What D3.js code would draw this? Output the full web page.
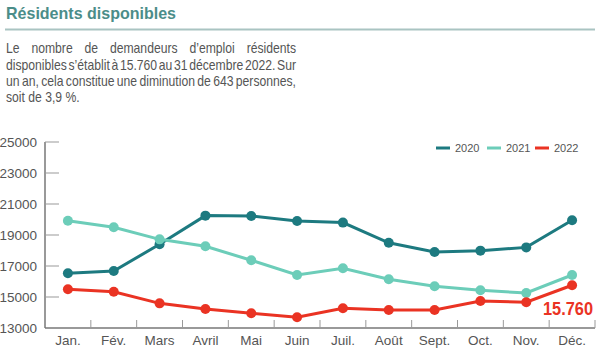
<!DOCTYPE html>
<html>
<head>
<meta charset="utf-8">
<script src="https://cdn.jsdelivr.net/npm/d3@7"></script>
<style>
  body { margin: 0; background: #fff; }
  svg { display: block; }
  text { font-family: "Liberation Sans", Arial, sans-serif; }
</style>
</head>
<body>
<div id="chart"></div>
<script>
// Months (x categories)
var months = ["Jan.", "Fév.", "Mars", "Avril", "Mai", "Juin", "Juil.", "Août", "Sept.", "Oct.", "Nov.", "Déc."];
// Series values
var years = ["2020", "2021", "2022"];
var values2020 = [16530, 16680, 18400, 20250, 20230, 19900, 19800, 18500, 17900, 17990, 18200, 19950];
var values2021 = [19920, 19500, 18720, 18270, 17370, 16420, 16850, 16140, 15690, 15430, 15260, 16420];
var values2022 = [15500, 15340, 14590, 14230, 13950, 13690, 14270, 14160, 14160, 14740, 14660, 15760];
var yTicks = [13000, 15000, 17000, 19000, 21000, 23000, 25000];
var colors = ["#1d7a80", "#6ccdb9", "#ea3323"];

var series = [values2020, values2021, values2022];

var width = 600, height = 354;
var margin = { top: 142, right: 5, bottom: 26, left: 45 };

var svg = d3.select("#chart").append("svg")
    .attr("width", width)
    .attr("height", height);

// Title
svg.append("text")
    .attr("x", 6)
    .attr("y", 19)
    .attr("textLength", 170)
    .attr("lengthAdjust", "spacingAndGlyphs")
    .style("font-size", "17px")
    .style("font-weight", "700")
    .attr("fill", "#4b8d89")
    .text("Résidents disponibles");

// Separator line
svg.append("line")
    .attr("x1", 5).attr("x2", 595)
    .attr("y1", 29.5).attr("y2", 29.5)
    .attr("stroke", "#a9c4c2")
    .attr("stroke-width", 2);

// Paragraph, narrow look via horizontal scale, justified with word-spacing
var paragraph = [
    "Le nombre de demandeurs d’emploi résidents",
    "disponibles s’établit à 15.760 au 31 décembre 2022. Sur",
    "un an, cela constitue une diminution de 643 personnes,",
    "soit de 3,9 %."
];
var narrow = 0.84;
var paraWidth = 290 / narrow;
var para = svg.append("g")
    .attr("transform", "translate(6,0) scale(" + narrow + ",1)");
paragraph.forEach(function(line, i) {
    var t = para.append("text")
        .attr("x", 0)
        .attr("y", 53.5 + i * 16.3)
        .style("font-size", "14.5px")
        .attr("fill", "#555")
        .text(line);
    if (i < paragraph.length - 1) {
        var w = t.node().getComputedTextLength();
        var gaps = line.split(" ").length - 1;
        t.style("word-spacing", ((paraWidth - w) / gaps) + "px");
    }
});

// Scales
var x = d3.scaleBand()
    .domain(months)
    .range([margin.left, width - margin.right]);

var y = d3.scaleLinear()
    .domain([13000, 25000])
    .range([height - margin.bottom, margin.top]);

// Y axis
var yAxis = svg.append("g")
    .attr("transform", "translate(" + margin.left + ",0)");
yAxis.append("line")
    .attr("x1", 0).attr("x2", 0)
    .attr("y1", y(25000)).attr("y2", y(13000))
    .attr("stroke", "#777").attr("stroke-width", 1.5);
yAxis.selectAll(".tick")
    .data(yTicks.filter(function(d) { return d > 13000; }))
    .enter().append("line")
    .attr("x1", 0).attr("x2", 14)
    .attr("y1", function(d) { return y(d); })
    .attr("y2", function(d) { return y(d); })
    .attr("stroke", "#999").attr("stroke-width", 1);
yAxis.selectAll(".label")
    .data(yTicks)
    .enter().append("text")
    .attr("x", -8)
    .attr("y", function(d) { return y(d); })
    .attr("dy", "0.35em")
    .attr("text-anchor", "end")
    .style("font-size", "13.5px")
    .attr("fill", "#555")
    .text(function(d) { return d; });

// X axis
var xAxis = svg.append("g");
xAxis.append("line")
    .attr("x1", margin.left).attr("x2", width - margin.right)
    .attr("y1", y(13000)).attr("y2", y(13000))
    .attr("stroke", "#777").attr("stroke-width", 1.5);
xAxis.selectAll(".tick")
    .data(months.slice(1))
    .enter().append("line")
    .attr("x1", function(d) { return x(d); })
    .attr("x2", function(d) { return x(d); })
    .attr("y1", y(13000)).attr("y2", y(13000) - 8)
    .attr("stroke", "#999").attr("stroke-width", 1);
xAxis.append("line")
    .attr("x1", width - margin.right).attr("x2", width - margin.right)
    .attr("y1", y(13000)).attr("y2", y(13000) - 8)
    .attr("stroke", "#999").attr("stroke-width", 1);
xAxis.selectAll(".label")
    .data(months)
    .enter().append("text")
    .attr("x", function(d) { return x(d) + x.bandwidth() / 2; })
    .attr("y", y(13000) + 17)
    .attr("text-anchor", "middle")
    .style("font-size", "13.5px")
    .attr("fill", "#555")
    .text(function(d) { return d; });

// Lines
var line = d3.line()
    .x(function(d, i) { return x(months[i]) + x.bandwidth() / 2; })
    .y(function(d) { return y(d); });

series.forEach(function(vals, s) {
    var g = svg.append("g");
    g.append("path")
        .attr("d", line(vals))
        .attr("fill", "none")
        .attr("stroke", colors[s])
        .attr("stroke-width", 3);
    g.selectAll("circle")
        .data(vals)
        .enter().append("circle")
        .attr("cx", function(d, i) { return x(months[i]) + x.bandwidth() / 2; })
        .attr("cy", function(d) { return y(d); })
        .attr("r", 5)
        .attr("fill", colors[s]);
});

// Last value label
var lastVal = values2022[values2022.length - 1];
svg.append("text")
    .attr("x", 543)
    .attr("y", 315)
    .attr("textLength", 50)
    .attr("lengthAdjust", "spacingAndGlyphs")
    .style("font-size", "19px")
    .style("font-weight", "700")
    .attr("fill", colors[2])
    .text(d3.format(",")(lastVal).replace(",", "."));

// Legend
var legendX = [436, 487, 535];
years.forEach(function(yr, i) {
    svg.append("line")
        .attr("x1", legendX[i]).attr("x2", legendX[i] + 14)
        .attr("y1", 148).attr("y2", 148)
        .attr("stroke", colors[i])
        .attr("stroke-width", 3);
    svg.append("text")
        .attr("x", legendX[i] + 19)
        .attr("y", 148)
        .attr("dy", "0.35em")
        .style("font-size", "11px")
        .attr("fill", "#555")
        .text(yr);
});
</script>
</body>
</html>
